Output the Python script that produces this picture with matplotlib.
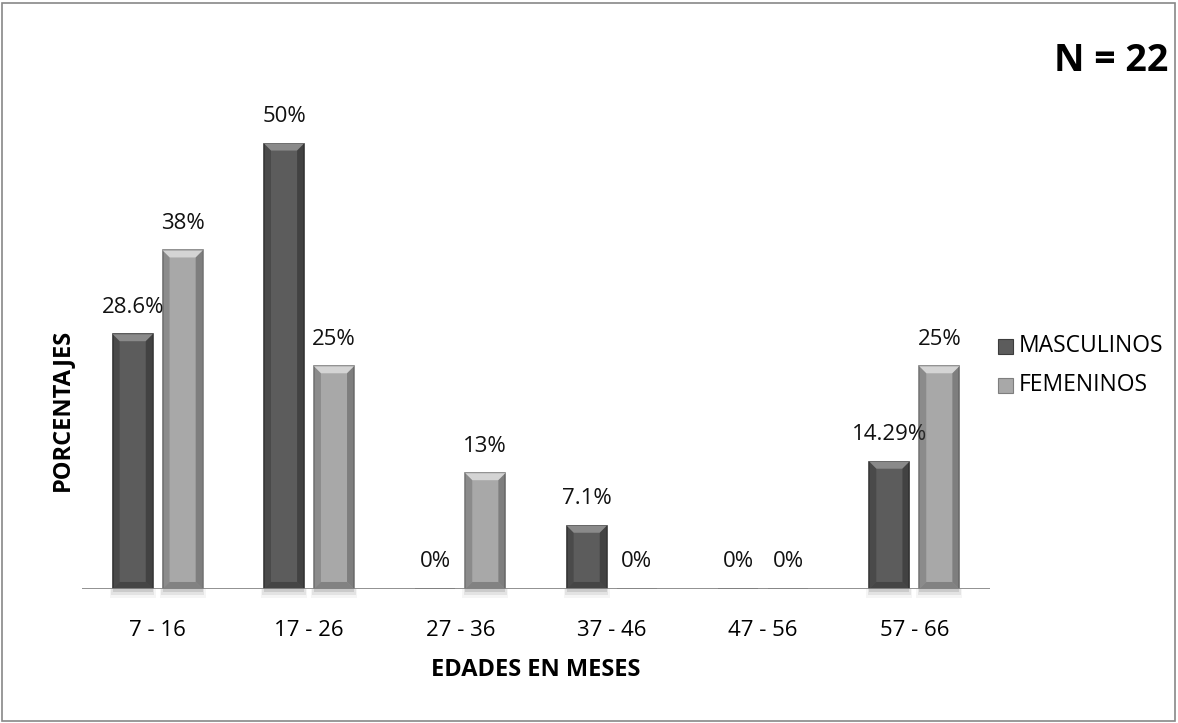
import numpy as np
import matplotlib.pyplot as plt
from matplotlib.patches import Polygon, Rectangle

plt.rcParams['font.family'] = ['Open Sans', 'DejaVu Sans']

grupos = ['7 - 16', '17 - 26', '27 - 36', '37 - 46', '47 - 56', '57 - 66']
masculinos = [28.6, 50, 0, 7.1, 0, 14.29]
femeninos = [38, 25, 13, 0, 0, 25]
etiq_masc = ['28.6%', '50%', '0%', '7.1%', '0%', '14.29%']
etiq_fem = ['38%', '25%', '13%', '0%', '0%', '25%']

W, H = 1178, 723
fig = plt.figure(figsize=(W / 100, H / 100), dpi=100)
ax = fig.add_axes([82 / W, 134 / H, 908 / W, 490 / H])
ax.set_xlim(-0.5, len(grupos) - 0.5)
ax.set_ylim(0, 55)

x = np.arange(len(grupos))
ancho = 0.265
desp = 0.165

# bevel depth in data units (about 7 px each way)
bx = 7 / 151.3
by = 7 / 8.9


def barras_bisel(xs, vals, base, borde, claro, oscuro):
    bars = ax.bar(xs, vals, ancho, color=base, edgecolor=borde, linewidth=1.2, zorder=3)
    for b, v in zip(bars, vals):
        if v <= 0:
            continue
        x0 = b.get_x()
        x1 = x0 + b.get_width()
        d = min(by, v / 2)
        # top bevel
        ax.add_patch(Polygon([[x0, v], [x1, v], [x1 - bx, v - d], [x0 + bx, v - d]],
                             closed=True, facecolor=claro, edgecolor='none', zorder=4))
        # side and bottom darker rims
        ax.add_patch(Polygon([[x0, v], [x0 + bx, v - d], [x0 + bx, d], [x0, 0]],
                             closed=True, facecolor=oscuro, edgecolor='none', alpha=0.35, zorder=4))
        ax.add_patch(Polygon([[x1, v], [x1 - bx, v - d], [x1 - bx, d], [x1, 0]],
                             closed=True, facecolor=oscuro, edgecolor='none', alpha=0.5, zorder=4))
        ax.add_patch(Polygon([[x0, 0], [x1, 0], [x1 - bx, d], [x0 + bx, d]],
                             closed=True, facecolor=oscuro, edgecolor='none', alpha=0.45, zorder=4))
        # soft shadow under the bar
        for k, a in enumerate([0.10, 0.07, 0.04]):
            ax.add_patch(Rectangle((x0 - 0.01 * k, -0.35 * (k + 1)), b.get_width() + 0.02 * k,
                                   0.35 * (k + 1), facecolor='#000000', alpha=a,
                                   edgecolor='none', zorder=1, clip_on=False))
    return bars


bm = barras_bisel(x - desp, masculinos, '#5c5c5c', '#3c3c3c', '#8a8a8a', '#2a2a2a')
bf = barras_bisel(x + desp, femeninos, '#a8a8a8', '#7e7e7e', '#d4d4d4', '#555555')

for xs, vals, labs in [(x - desp, masculinos, etiq_masc), (x + desp, femeninos, etiq_fem)]:
    for xi, v, t in zip(xs, vals, labs):
        ax.annotate(t, (xi, v), xytext=(0, 19.5), textcoords='offset points',
                    ha='center', va='center', fontsize=16, color='#111111')

ax.axhline(0, color='#868686', linewidth=2, zorder=5)
for s in ax.spines.values():
    s.set_visible(False)
ax.set_yticks([])
ax.set_xticks(x)
ax.set_xticklabels(grupos, fontsize=16)
ax.tick_params(axis='x', length=0, pad=22)
ax.set_xlabel('EDADES EN MESES', fontsize=17, fontweight='bold')
ax.xaxis.set_label_coords(0.5, -0.14)
ax.set_ylabel('PORCENTAJES', fontsize=17, fontweight='bold')
ax.yaxis.set_label_coords(-0.009, 0.365)

# legend
fig.patches.append(Rectangle((998 / W, 1 - 354 / H), 15 / W, 15 / H,
                             transform=fig.transFigure, facecolor='#5c5c5c',
                             edgecolor='#3c3c3c', linewidth=0.8))
fig.patches.append(Rectangle((998 / W, 1 - 393 / H), 15 / W, 15 / H,
                             transform=fig.transFigure, facecolor='#a8a8a8',
                             edgecolor='#7e7e7e', linewidth=0.8))
fig.text(1019 / W, 1 - 346 / H, 'MASCULINOS', fontsize=16.5, va='center', ha='left')
fig.text(1019 / W, 1 - 385 / H, 'FEMENINOS', fontsize=16.5, va='center', ha='left')

fig.text(1168 / W, 1 - 61 / H, 'N = 22', fontsize=27, fontweight='bold',
         ha='right', va='center')

fig.patches.append(Rectangle((2 / W, 2 / H), 1173 / W, 718 / H,
                             transform=fig.transFigure, facecolor='none',
                             edgecolor='#888888', linewidth=1.2))

fig.savefig('out.png', dpi=100)
